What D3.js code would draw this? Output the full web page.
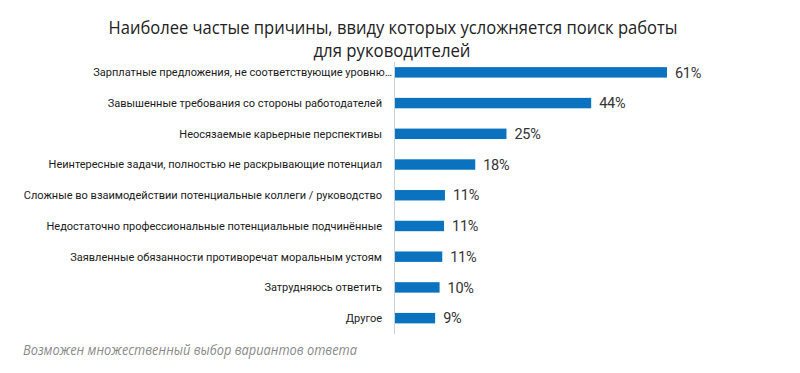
<!DOCTYPE html>
<html><head><meta charset="utf-8">
<script src="https://cdn.jsdelivr.net/npm/d3@7"></script>
<style>body{margin:0;background:#fff;}svg{display:block;}</style>
</head><body><svg id="c" width="800" height="373"></svg>
<script>
const categories = [
  "Зарплатные предложения, не соответствующие уровню…",
  "Завышенные требования со стороны работодателей",
  "Неосязаемые карьерные перспективы",
  "Неинтересные задачи, полностью не раскрывающие потенциал",
  "Сложные во взаимодействии потенциальные коллеги / руководство",
  "Недостаточно профессиональные потенциальные подчинённые",
  "Заявленные обязанности противоречат моральным устоям",
  "Затрудняюсь ответить",
  "Другое"
];
const values = [61, 44, 25, 18, 11.2, 11.0, 10.6, 10, 9];
const valueLabels = ["61%", "44%", "25%", "18%", "11%", "11%", "11%", "10%", "9%"];
const titleLines = ["Наиболее частые причины, ввиду которых усложняется поиск работы", "для руководителей"];
const footnote = "Возможен множественный выбор вариантов ответа";

const svg = d3.select("#c");
const x0 = 395;
const x = d3.scaleLinear().domain([0, 61]).range([x0, 667]);
const y = d3.scaleBand().domain(categories).range([57, 333.5]).paddingInner(0.66).paddingOuter(0.33);

// title
svg.append("text").attr("x", 393).attr("y", 34).attr("text-anchor", "middle")
  .attr("font-family", "Open Sans").attr("font-weight", 500).attr("font-size", 17.5).attr("fill", "#222")
  .attr("textLength", 569).attr("lengthAdjust", "spacingAndGlyphs").text(titleLines[0]);
svg.append("text").attr("x", 392).attr("y", 57).attr("text-anchor", "middle")
  .attr("font-family", "Open Sans").attr("font-weight", 500).attr("font-size", 17.5).attr("fill", "#222")
  .attr("textLength", 157).attr("lengthAdjust", "spacingAndGlyphs").text(titleLines[1]);

// axis line
svg.append("line").attr("x1", x0 - 0.5).attr("x2", x0 - 0.5).attr("y1", 62).attr("y2", 334)
  .attr("stroke", "#c8d3dc").attr("stroke-width", 1);

// bars
svg.selectAll("rect.bar").data(values).join("rect").attr("class", "bar")
  .attr("x", x0).attr("y", (d, i) => y(categories[i]))
  .attr("width", d => x(d) - x0).attr("height", y.bandwidth())
  .attr("fill", "#0b72bf");

// value labels
svg.selectAll("text.val").data(values).join("text").attr("class", "val")
  .attr("x", d => x(d) + 8).attr("y", (d, i) => y(categories[i]) + y.bandwidth() / 2)
  .attr("dy", "0.36em").attr("font-family", "Roboto").attr("font-size", 14.5)
  .attr("fill", "#333").attr("letter-spacing", "-0.3").text((d, i) => valueLabels[i]);

// category labels
svg.selectAll("text.cat").data(categories).join("text").attr("class", "cat")
  .attr("x", (d, i) => i === 0 ? 392 : 382)
  .attr("y", d => y(d) + y.bandwidth() / 2).attr("dy", "0.35em")
  .attr("text-anchor", "end").attr("font-family", "Roboto").attr("font-size", 11)
  .attr("fill", "#1a1a1a").text(d => d);

// footnote
svg.append("text").attr("x", 23).attr("y", 355)
  .attr("font-family", "Open Sans").attr("font-style", "italic").attr("font-size", 14)
  .attr("fill", "#8a8a8a").attr("textLength", 334).attr("lengthAdjust", "spacingAndGlyphs").text(footnote);
</script></body></html>
